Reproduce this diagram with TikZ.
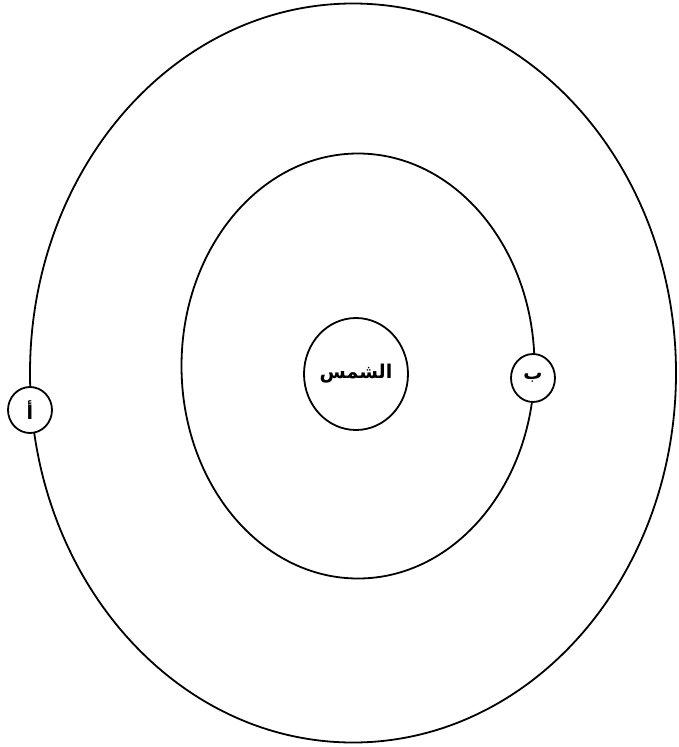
\documentclass[tikz,border=0pt]{standalone}
\usepackage{fontspec}
\newfontfamily\arabicfont[Script=Arabic]{DejaVu Sans}
\TeXXeTstate=1
\usetikzlibrary{shapes.geometric}
\begin{document}
\begin{tikzpicture}[x=1pt,y=-1pt,
  orbit/.style={draw, ellipse, line width=1.8pt, inner sep=0pt},
  body/.style={draw, ellipse, line width=1.8pt, fill=white, inner sep=0pt}]
\useasboundingbox (0,0) rectangle (679,747);
\node[orbit, minimum width=646, minimum height=739] (outer) at (353,373) {};
\node[orbit, minimum width=353, minimum height=425] (inner) at (358,366) {};
\node[body, minimum width=104, minimum height=112, font=\arabicfont\bfseries\fontsize{19}{21}\selectfont] (sun) at (356,374) {\beginR الشمس\endR};
\node[body, minimum width=44, minimum height=48, font=\arabicfont\bfseries\fontsize{19}{21}\selectfont] (b) at (533,378) {\beginR ب\endR};
\node[body, minimum width=44, minimum height=46, font=\arabicfont\bfseries\fontsize{19}{21}\selectfont] (a) at (30,410) {\beginR أ\endR};
\end{tikzpicture}
\end{document}
